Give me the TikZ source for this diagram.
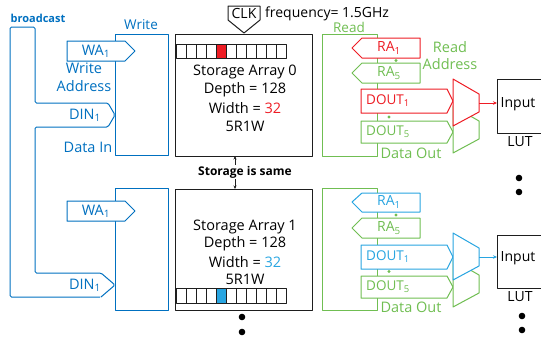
\documentclass[tikz,border=0pt]{standalone}
\usepackage{fontspec}
\setmainfont{Open Sans}
\usetikzlibrary{arrows.meta}
\definecolor{bw}{RGB}{0,112,192}
\definecolor{bl}{RGB}{40,165,225}
\definecolor{rd}{RGB}{238,28,36}
\definecolor{gr}{RGB}{112,190,82}
\definecolor{dk}{RGB}{30,30,30}
\begin{document}
\begin{tikzpicture}[x=1pt,y=-1pt,line join=round,
  fs/.style={font=\fontsize{#1}{#1}\selectfont},
  ln/.style={line width=1pt},
  lbl/.style={inner sep=0pt,anchor=center},
  bigdot/.style={fill=black,draw=none},
  smdot/.style={fill=gr,draw=none}]
\useasboundingbox (0,0) rectangle (541,341);

% ---------- write side ----------
\draw[bw,ln] (115,34) rectangle (168,155);
\draw[bw,ln] (115,188) rectangle (168,310);
\draw[bw,ln,rounded corners=1.5pt] (100,297) -- (10,297) -- (10,27) -- (35,27) -- (35,103) -- (108,103) -- (115,115) -- (108,127) -- (35,127) -- (35,273) -- (101,273) -- (115,285) -- (101,297);
\draw[bw,ln,fill=white] (67,41) -- (125,41) -- (135,51) -- (125,61) -- (67,61) -- cycle;
\draw[bw,ln,fill=white] (67,201) -- (125,201) -- (135,211) -- (125,221) -- (67,221) -- cycle;

\node[lbl,bw,font=\bfseries\fontsize{11}{11}\selectfont] (bc) at (38,18) {broadcast};
\node[lbl,bw,fs=13.5] (wr) at (141,25) {Write};
\node[lbl,bw,fs=14.5] (wa0) at (96,51) {WA\textsubscript{1}};
\node[lbl,bw,fs=14.5] (wad) at (84,68) {Write};
\node[lbl,bw,fs=14.5] (wad2) at (84,86) {Address};
\node[lbl,bw,fs=14.5] (din0) at (85,115) {DIN\textsubscript{1}};
\node[lbl,bw,fs=14.5] (dti) at (88,147) {Data In};
\node[lbl,bw,fs=14.5] (wa1) at (96,211) {WA\textsubscript{1}};
\node[lbl,bw,fs=14.5] (din1) at (85,285) {DIN\textsubscript{1}};

% ---------- storage ----------
\draw[dk,ln] (175,34) rectangle (312,156);
\draw[dk,ln] (175,189) rectangle (312,310);
\fill[rd] (216,44) rectangle (226,58);
\fill[bl] (216,288) rectangle (226,303);
\foreach \i in {0,...,10} {
  \draw[dk,line width=0.8pt] ({176+10*\i},44) rectangle ({186+10*\i},58);
  \draw[dk,line width=0.8pt] ({176+10*\i},288) rectangle ({186+10*\i},303);
}
\node[lbl,fs=14.5] (sa0) at (245,72) {Storage Array 0};
\node[lbl,fs=14.5] (dp0) at (245,90) {Depth = 128};
\node[lbl,fs=14.5] (wd0) at (245,108) {Width = \textcolor{rd}{32}};
\node[lbl,fs=14.5] (rw0) at (245,126) {5R1W};
\node[lbl,fs=14.5] (sa1) at (245,227) {Storage Array 1};
\node[lbl,fs=14.5] (dp1) at (245,244) {Depth = 128};
\node[lbl,fs=14.5] (wd1) at (245,262) {Width = \textcolor{bl}{32}};
\node[lbl,fs=14.5] (rw1) at (245,279) {5R1W};

\coordinate (s0b) at (235,156);
\coordinate (s1t) at (235,189);
\draw[dk,line width=0.8pt,{Stealth[length=3.5pt,width=3pt]}-{Stealth[length=3.5pt,width=3pt]}] (s0b) -- (s1t);
\node[lbl,fill=white,inner sep=1pt,font=\bfseries\fontsize{12}{12}\selectfont] (same) at (245,172) {Storage is same};

\fill[bigdot] (242,317) circle (3.3);
\fill[bigdot] (242,332) circle (3.3);

% CLK
\draw[dk,ln,fill=white] (228,6) -- (260,6) -- (260,20) -- (244,33) -- (228,20) -- cycle;
\node[lbl,fs=14] (clk) at (244,13.5) {CLK};
\node[lbl,fs=14,anchor=west] (freq) at (265,14) {frequency= 1.5GHz};

% ---------- read side ----------
\draw[gr,ln] (322,34) rectangle (377,156);
\draw[gr,ln] (322,188) rectangle (377,310);
\node[lbl,gr,fs=13.5] (rd0) at (349,27) {Read};

% upper
\draw[rd,ln,fill=white] (352,48) -- (362,38) -- (420,38) -- (420,58) -- (362,58) -- cycle;
\draw[gr,ln,fill=white] (352,73) -- (362,63) -- (420,63) -- (420,83) -- (362,83) -- cycle;
\draw[rd,ln,fill=white] (361,89) -- (447,89) -- (453,101) -- (447,113) -- (361,113) -- cycle;
\draw[gr,ln,fill=white] (361,121) -- (447,121) -- (453,132) -- (447,143) -- (361,143) -- cycle;
\fill[smdot] (396,60.5) circle (1.6);
\fill[smdot] (389,117) circle (1.6);
\node[lbl,rd,fs=14] (ra10) at (389,48) {RA\textsubscript{1}};
\node[lbl,gr,fs=14] (ra50) at (389,73) {RA\textsubscript{5}};
\node[lbl,rd,fs=13.5] (do10) at (388,101) {DOUT\textsubscript{1}};
\node[lbl,gr,fs=13.5] (do50) at (388,132) {DOUT\textsubscript{5}};
\node[lbl,gr,fs=14.5] (rda) at (450,47) {Read};
\node[lbl,gr,fs=14.5] (rda2) at (450,64) {Address};
\node[lbl,gr,fs=14.5] (dout0) at (411,153.5) {Data Out};

% lower
\draw[bl,ln,fill=white] (352,202) -- (362,193) -- (420,193) -- (420,212) -- (362,212) -- cycle;
\draw[gr,ln,fill=white] (352,228) -- (362,218) -- (420,218) -- (420,238) -- (362,238) -- cycle;
\draw[bl,ln,fill=white] (361,245) -- (447,245) -- (453,257) -- (447,269) -- (361,269) -- cycle;
\draw[gr,ln,fill=white] (361,276) -- (447,276) -- (453,287) -- (447,298) -- (361,298) -- cycle;
\fill[smdot] (396,215) circle (1.6);
\fill[smdot] (389,271.5) circle (1.6);
\node[lbl,bl,fs=14] (ra11) at (389,202) {RA\textsubscript{1}};
\node[lbl,gr,fs=14] (ra51) at (389,228) {RA\textsubscript{5}};
\node[lbl,bl,fs=13.5] (do11) at (388,257) {DOUT\textsubscript{1}};
\node[lbl,gr,fs=13.5] (do51) at (388,287) {DOUT\textsubscript{5}};
\node[lbl,gr,fs=14.5] (dout1) at (411,307) {Data Out};

% muxes
\draw[gr,ln,fill=white] (453,106) -- (479,121) -- (479,139) -- (453,153) -- cycle;
\draw[rd,ln,fill=white] (453,79) -- (479,94) -- (479,112) -- (453,126) -- cycle;
\draw[gr,ln,fill=white] (453,260) -- (479,275) -- (479,293) -- (453,307) -- cycle;
\draw[bl,ln,fill=white] (453,233) -- (479,248) -- (479,266) -- (453,280) -- cycle;
\coordinate (m0) at (479,103);
\coordinate (m1) at (479,257);

% LUTs
\draw[dk,ln] (497,79) rectangle (546,133);
\draw[dk,ln] (497,235) rectangle (546,288);
\coordinate (l0) at (497,103);
\coordinate (l1) at (497,257);
\draw[rd,ln,-{Stealth[length=4pt,width=3.5pt]}] (m0) -- (l0);
\draw[bl,ln,-{Stealth[length=4pt,width=3.5pt]}] (m1) -- (l1);
\node[lbl,fs=14] (in0) at (518,104) {Input};
\node[lbl,fs=14] (lut0) at (520,142) {LUT};
\node[lbl,fs=14] (in1) at (518,258) {Input};
\node[lbl,fs=14] (lut1) at (520,297) {LUT};
\fill[bigdot] (519,178) circle (3.3);
\fill[bigdot] (519,192) circle (3.3);
\fill[bigdot] (522,316) circle (3.3);
\fill[bigdot] (522,330) circle (3.3);
\end{tikzpicture}
\end{document}
